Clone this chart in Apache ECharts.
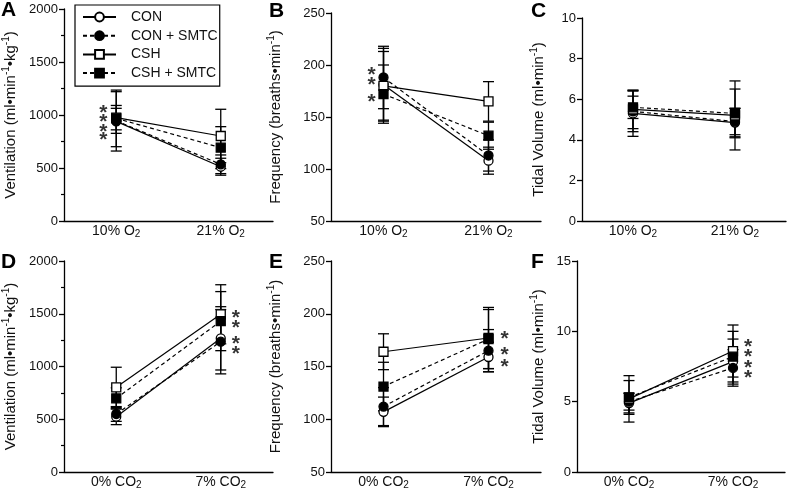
<!DOCTYPE html>
<html>
<head>
<meta charset="utf-8">
<title>Ventilation responses</title>
<script src="https://cdn.jsdelivr.net/npm/echarts@6/dist/echarts.min.js"></script>
<style>
  html, body { margin: 0; padding: 0; background: #fff; }
  #chart { width: 788px; height: 495px; }
</style>
</head>
<body>
<div id="chart"></div>
<script>
var groups = ['CON', 'CON + SMTC', 'CSH', 'CSH + SMTC'];
var hypoxiaCats = ['10% O2', '21% O2'];
var hypercapniaCats = ['0% CO2', '7% CO2'];

// one row per group (CON, CON+SMTC, CSH, CSH+SMTC), one value per category
// A - ventilation, hypoxia
var ventHypMean = [[940, 512], [945, 535], [975, 802], [968, 692]];
var ventHypSem  = [[280, 80], [118, 88], [115, 252], [267, 198]];
// B - frequency, hypoxia
var freqHypMean = [[181, 108], [188, 113], [180, 165], [172, 132]];
var freqHypSem  = [[35, 13], [30, 15], [33, 19], [28, 13]];
// C - tidal volume, hypoxia
var vtHypMean = [[5.3, 4.85], [5.4, 4.9], [5.5, 5.2], [5.6, 5.3]];
var vtHypSem  = [[1.13, 0.7], [1.0, 0.65], [0.95, 1.7], [0.55, 1.2]];
// D - ventilation, hypercapnia
var ventHcMean = [[524, 1267], [550, 1235], [803, 1495], [698, 1430]];
var ventHcSem  = [[75, 300], [70, 305], [190, 280], [100, 280]];
// E - frequency, hypercapnia
var freqHcMean = [[107, 159], [112, 165], [164, 177], [131, 176]];
var freqHcSem  = [[14, 14], [18, 20], [17, 29], [23, 28]];
// F - tidal volume, hypercapnia
var vtHcMean = [[4.9, 7.85], [5.0, 7.4], [5.2, 8.6], [5.3, 8.2]];
var vtHcSem  = [[0.7, 1.6], [0.6, 1.3], [1.65, 1.85], [1.2, 1.8]];

// asterisk heights (axis units)
var starsA = [1069, 984, 890, 818];
var starsB = [196, 186, 170];
var starsD = [1510, 1419, 1267, 1178];
var starsE = [181.5, 166.3, 155.2];
var starsF = [9.33, 8.62, 7.84, 7.06];

var FONT = '"Liberation Sans", Arial, sans-serif';
var chart = echarts.init(document.getElementById('chart'));

var panels = [
  {letter: 'A', lx: 1, ly: 0, grid: {left: 60, top: 9, width: 213, height: 212},
   cats: hypoxiaCats, mean: ventHypMean, sem: ventHypSem,
   min: 0, max: 2000, interval: 500, minor: true, nameGap: 43,
   name: 'Ventilation (ml•min{sup|-1}•kg{sup|-1})',
   stars: starsA, starCat: 0, starDx: -13},
  {letter: 'B', lx: 269, ly: 1, grid: {left: 331, top: 13, width: 210, height: 208},
   cats: hypoxiaCats, mean: freqHypMean, sem: freqHypSem,
   min: 50, max: 250, interval: 50, minor: false, nameGap: 45,
   name: 'Frequency (breaths•min{sup|-1})',
   stars: starsB, starCat: 0, starDx: -12},
  {letter: 'C', lx: 531, ly: 1, grid: {left: 582, top: 18, width: 204, height: 203},
   cats: hypoxiaCats, mean: vtHypMean, sem: vtHypSem,
   min: 0, max: 10, interval: 2, minor: false, nameGap: 33,
   name: 'Tidal Volume (ml•min{sup|-1})',
   stars: null},
  {letter: 'D', lx: 1, ly: 252, grid: {left: 60, top: 261, width: 213, height: 211},
   cats: hypercapniaCats, mean: ventHcMean, sem: ventHcSem,
   min: 0, max: 2000, interval: 500, minor: true, nameGap: 43,
   name: 'Ventilation (ml•min{sup|-1}•kg{sup|-1})',
   stars: starsD, starCat: 1, starDx: 15},
  {letter: 'E', lx: 269, ly: 252, grid: {left: 331, top: 261, width: 210, height: 211},
   cats: hypercapniaCats, mean: freqHcMean, sem: freqHcSem,
   min: 50, max: 250, interval: 50, minor: false, nameGap: 45,
   name: 'Frequency (breaths•min{sup|-1})',
   stars: starsE, starCat: 1, starDx: 16},
  {letter: 'F', lx: 531, ly: 252, grid: {left: 577, top: 261, width: 208, height: 211},
   cats: hypercapniaCats, mean: vtHcMean, sem: vtHcSem,
   min: 0, max: 15, interval: 5, minor: false, nameGap: 28,
   name: 'Tidal Volume (ml•min{sup|-1})',
   stars: starsF, starCat: 1, starDx: 15}
];

// CON, CON+SMTC, CSH, CSH+SMTC
var symbols = ['circle', 'circle', 'rect', 'rect'];
var filled  = [false, true, false, true];
var dashed  = [false, true, false, true];

function renderErr(params, api) {
  var x = api.value(0), m = api.value(1), e = api.value(2);
  var top = api.coord([x, m + e]);
  var bot = api.coord([x, m - e]);
  var hw = 5.5;
  var st = {stroke: '#000', lineWidth: 1.3};
  return {
    type: 'group',
    children: [
      {type: 'line', shape: {x1: top[0], y1: top[1], x2: bot[0], y2: bot[1]}, style: st},
      {type: 'line', shape: {x1: top[0] - hw, y1: top[1], x2: top[0] + hw, y2: top[1]}, style: st},
      {type: 'line', shape: {x1: bot[0] - hw, y1: bot[1], x2: bot[0] + hw, y2: bot[1]}, style: st}
    ]
  };
}

var grids = [], xAxes = [], yAxes = [], series = [], titles = [];

panels.forEach(function(p, i) {
  grids.push(p.grid);
  titles.push({
    text: p.letter, left: p.lx, top: p.ly, padding: 0,
    textStyle: {fontSize: 21, fontWeight: 'bold', color: '#000', fontFamily: FONT}
  });

  xAxes.push({
    type: 'category', gridIndex: i, data: p.cats, boundaryGap: true,
    axisLine: {lineStyle: {color: '#000', width: 1.3}},
    axisTick: {alignWithLabel: true, length: 5, lineStyle: {color: '#000', width: 1.3}},
    axisLabel: {
      interval: 0, fontSize: 14, color: '#111', fontFamily: FONT, margin: 2, lineHeight: 16,
      formatter: function(v) { return v.replace(/O2$/, 'O{sub|2}'); },
      rich: {sub: {fontSize: 10, lineHeight: 8, verticalAlign: 'bottom', color: '#111', fontFamily: FONT}}
    },
    splitLine: {show: false}
  });

  yAxes.push({
    type: 'value', gridIndex: i, min: p.min, max: p.max, interval: p.interval,
    name: p.name, nameLocation: 'middle', nameRotate: 90, nameGap: p.nameGap,
    nameTextStyle: {
      fontSize: 15, color: '#111', fontFamily: FONT, lineHeight: 20,
      rich: {sup: {fontSize: 10, lineHeight: 10, verticalAlign: 'top', color: '#111', fontFamily: FONT}}
    },
    axisLine: {show: true, lineStyle: {color: '#000', width: 1.3}},
    axisTick: {show: true, length: 5, lineStyle: {color: '#000', width: 1.3}},
    minorTick: {show: p.minor, splitNumber: 2, length: 3, lineStyle: {color: '#000', width: 1.2}},
    axisLabel: {
      fontSize: 13, color: '#111', fontFamily: FONT, margin: 6,
      formatter: function(v) { return String(v); }
    },
    splitLine: {show: false}
  });

  // error bars first so markers sit on top
  groups.forEach(function(g, k) {
    series.push({
      name: g + ' sem', type: 'custom', xAxisIndex: i, yAxisIndex: i,
      renderItem: renderErr, z: 1, silent: true,
      encode: {x: 0, y: 1},
      data: p.mean[k].map(function(m, j) { return [j, m, p.sem[k][j]]; })
    });
  });

  groups.forEach(function(g, k) {
    series.push({
      name: g, type: 'line', xAxisIndex: i, yAxisIndex: i, z: 3,
      data: p.mean[k],
      symbol: symbols[k], symbolSize: 9, showSymbol: true,
      lineStyle: {color: '#000', width: 1.2, type: dashed[k] ? [4, 3] : 'solid'},
      itemStyle: {color: filled[k] ? '#000' : '#fff', borderColor: '#000', borderWidth: 1.3},
      emphasis: {disabled: true}
    });
  });

  if(p.stars) {
    series.push({
      name: 'sig', type: 'scatter', xAxisIndex: i, yAxisIndex: i, z: 4, silent: true,
      symbolSize: 1, itemStyle: {color: 'transparent'},
      data: p.stars.map(function(v) { return [p.starCat, v]; }),
      label: {
        show: true, position: 'inside', formatter: '*',
        offset: [p.starDx, 6], fontSize: 21, fontWeight: 'bold', color: '#000', fontFamily: FONT
      }
    });
  }
});

var option = {
  animation: false,
  backgroundColor: '#fff',
  textStyle: {fontFamily: FONT},
  title: titles,
  legend: {
    data: groups, orient: 'vertical', left: 75, top: 5,
    padding: [5, 2, 6, 7], itemGap: 4.7, itemWidth: 33, itemHeight: 11,
    borderColor: '#000', borderWidth: 1.2, align: 'left', selectedMode: false,
    textStyle: {fontSize: 14, color: '#111', fontFamily: FONT, lineHeight: 14, padding: [0, 0, 0, 10]}
  },
  grid: grids,
  xAxis: xAxes,
  yAxis: yAxes,
  series: series
};

chart.setOption(option, true);
</script>
</body>
</html>
